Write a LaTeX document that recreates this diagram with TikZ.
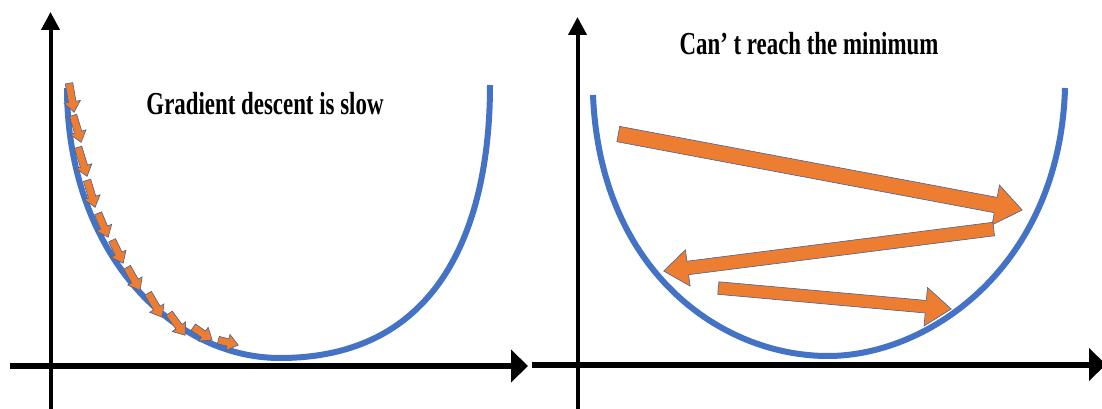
\documentclass[tikz,border=0pt]{standalone}
\usepackage{fontspec}
\setmainfont{Liberation Serif}
\usetikzlibrary{arrows.meta,shapes.arrows}
\definecolor{inkBlack}{RGB}{0, 0, 0}
\definecolor{curveBlue}{RGB}{68, 114, 196}
\definecolor{stepOrange}{RGB}{237, 125, 49}
\definecolor{stepEdge}{RGB}{70, 98, 150}

\begin{document}
\begin{tikzpicture}[x=1pt, y=-1pt,
    yaxis/.style={draw=inkBlack, line width=4pt, -{Triangle[width=18pt, length=18pt]}},
    xaxis/.style={draw=inkBlack, line width=6pt, -{Triangle[width=32pt, length=17pt]}},
    bowl/.style={draw=curveBlue, line width=6pt},
    bigstep/.style={single arrow, draw=stepEdge, fill=stepOrange, line width=0.6pt,
        inner xsep=0pt, single arrow tip angle=74, anchor=tail},
    smallstep/.style={bigstep, inner ysep=3.5pt, single arrow head extend=4.5pt, single arrow tip angle=76},
    title/.style={font=\fontsize{32pt}{36pt}\selectfont\bfseries, text=inkBlack,
        inner sep=0pt, anchor=base, xscale=0.715}]
    \useasboundingbox (0,0) rectangle (1102,409);

    % left panel: axes
    \coordinate (ly0) at (50.5,409);
    \coordinate (ly1) at (50.5,12);
    \coordinate (lx0) at (10,366);
    \coordinate (lx1) at (528,366);
    \draw[yaxis] (ly0) -- (ly1);
    \draw[xaxis] (lx0) -- (lx1);

    % left bowl
    \draw[bowl] (67,88) .. controls (67,250) and (170,358) .. (280,358)
        .. controls (450,358) and (490,210) .. (490,85);

    % small steps down the slope
    \foreach \n/\x/\y/\a/\l in {1/69/83/-80.2/29.4, 2/73/115/-73.5/28.2, 3/78/147/-72.8/30.4,
        4/87/180/-73.5/28.2, 5/98/213/-67.4/26, 6/112/240/-64.4/25.5, 7/127/267/-60.5/26.4,
        8/148/293/-59.7/27.8, 9/169/313/-54/27.2, 10/193/327/-34.4/23, 11/218/340/-14/20.6}
        \node[smallstep, minimum height=\l pt, rotate=\a] (step\n) at (\x,\y) {};

    \node[title] (slow) at (265,114) {Gradient descent is slow};

    % right panel: axes
    \coordinate (ry0) at (577.5,409);
    \coordinate (ry1) at (577.5,17);
    \coordinate (rx0) at (532,364.5);
    \coordinate (rx1) at (1106,364.5);
    \draw[yaxis] (ry0) -- (ry1);
    \draw[xaxis] (rx0) -- (rx1);

    % right bowl
    \draw[bowl] (593,95) .. controls (600,270) and (720,356) .. (828,356)
        .. controls (930,356) and (1060,265) .. (1065,88);

    % big steps bouncing across
    \node[bigstep, minimum height=411pt, inner ysep=7.5pt, single arrow head extend=12.5pt,
        rotate=-10.65] (jump1) at (618,134) {};
    \node[bigstep, minimum height=332.7pt, inner ysep=6.5pt, single arrow head extend=11.5pt,
        rotate=187.25] (jump2) at (994,229) {};
    \node[bigstep, minimum height=233.9pt, inner ysep=6pt, single arrow head extend=13pt,
        rotate=-5.15] (jump3) at (718,288) {};

    \node[title] (miss) at (809,55) {Can’ t reach the minimum};
\end{tikzpicture}
\end{document}
